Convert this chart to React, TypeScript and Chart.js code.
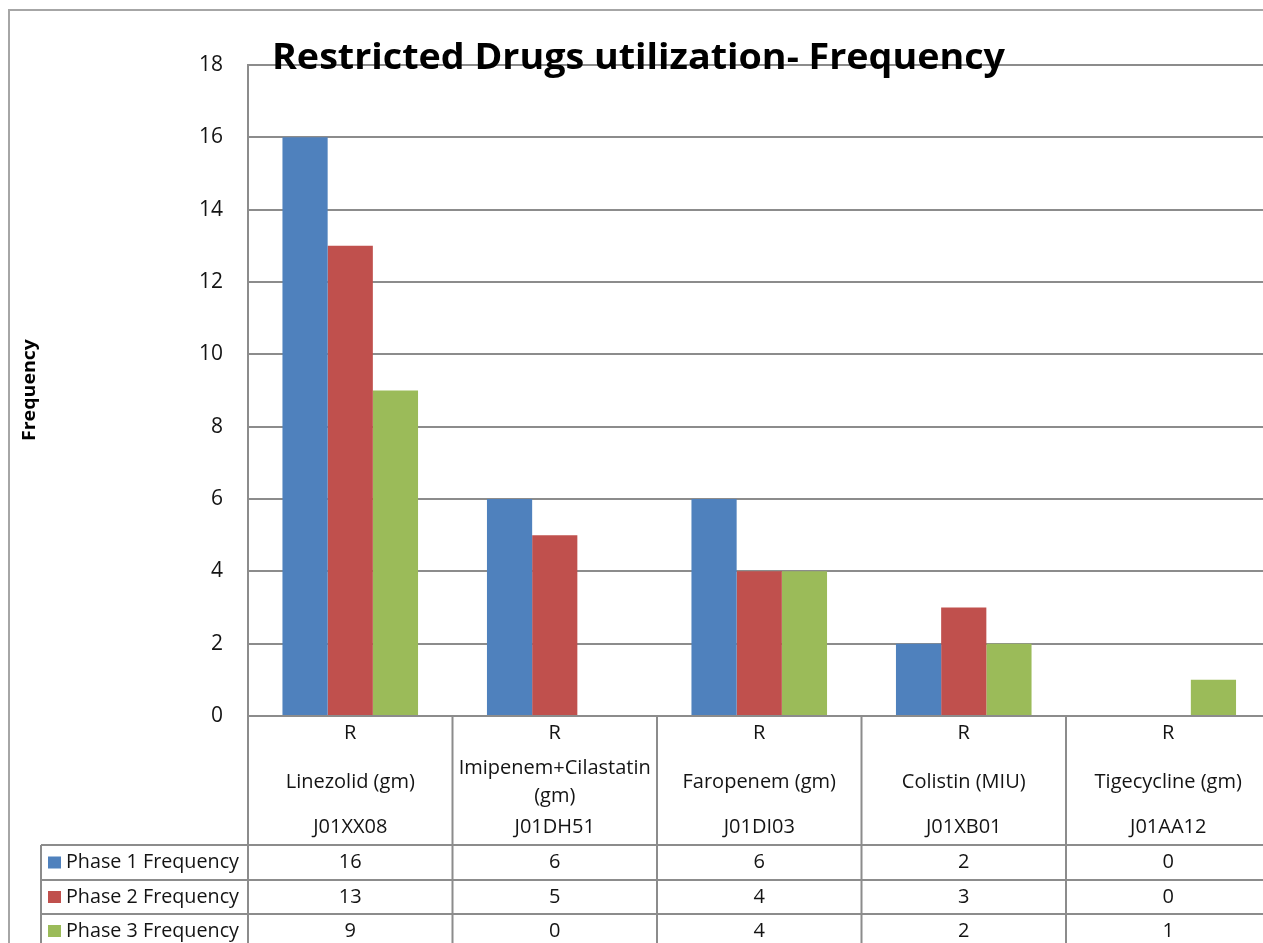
import React, { useEffect, useRef } from "react";
import { Chart, registerables } from "chart.js";

Chart.register(...registerables);

// ---- data ----
const chartTitle = "Restricted Drugs utilization- Frequency";
const yAxisTitle = "Frequency";
const drugClasses = ["R", "R", "R", "R", "R"];
const drugNames = [
  "Linezolid (gm)",
  "Imipenem+Cilastatin (gm)",
  "Faropenem (gm)",
  "Colistin (MIU)",
  "Tigecycline (gm)",
];
const atcCodes = ["J01XX08", "J01DH51", "J01DI03", "J01XB01", "J01AA12"];
const seriesNames = ["Phase 1 Frequency", "Phase 2 Frequency", "Phase 3 Frequency"];
const phase1 = [16, 6, 6, 2, 0];
const phase2 = [13, 5, 4, 3, 0];
const phase3 = [9, 0, 4, 2, 1];
const seriesValues = [phase1, phase2, phase3];
const seriesColors = ["#4f81bd", "#c0504d", "#9bbb59"];
const yMin = 0;
const yMax = 18;
const yStep = 2;

// ---- layout / style ----
const CANVAS_W = 1280;
const CANVAS_H = 943;
const AXIS_X = 248;
const PLOT_TOP = 65;
const PLOT_BOTTOM = 716;
const PLOT_RIGHT = 1270.5;
const LINE = "#8c8c8c";
const TEXT = "#141414";
const FONT = "'Open Sans', 'DejaVu Sans', sans-serif";
const ROW_TOPS = [845, 880, 914, 948];
const LEGEND_LEFT = 41;

function fitText(ctx: CanvasRenderingContext2D, text: string, x: number, y: number, width: number) {
  const w = ctx.measureText(text).width;
  ctx.save();
  ctx.translate(x, y);
  ctx.scale(width / w, 1);
  ctx.fillText(text, 0, 0);
  ctx.restore();
}

function wrap(ctx: CanvasRenderingContext2D, text: string, maxW: number): string[] {
  const words = text.split(" ");
  const lines: string[] = [];
  let cur = "";
  for (const w of words) {
    const t = cur ? cur + " " + w : w;
    if (ctx.measureText(t).width > maxW && cur) {
      lines.push(cur);
      cur = w;
    } else cur = t;
  }
  if (cur) lines.push(cur);
  return lines;
}

const tablePlugin = {
  id: "excelTable",
  afterDraw(chart: any) {
    const ctx: CanvasRenderingContext2D = chart.ctx;
    const xs = chart.scales.x;
    const ys = chart.scales.y;
    const W = chart.width;
    const H = chart.height;
    const n = drugNames.length;
    const c0 = xs.getPixelForValue(0);
    const colW = xs.getPixelForValue(1) - c0;
    const zeroY = ys.getPixelForValue(0);
    ctx.save();

    // outer frame
    ctx.strokeStyle = "#a6a6a6";
    ctx.lineWidth = 2;
    ctx.beginPath();
    ctx.moveTo(9, H);
    ctx.lineTo(9, 10);
    ctx.lineTo(W, 10);
    ctx.stroke();

    // table grid
    ctx.strokeStyle = LINE;
    ctx.lineWidth = 2;
    ctx.beginPath();
    for (let i = 0; i <= n; i++) {
      const x = c0 - colW / 2 + i * colW;
      ctx.moveTo(x, zeroY);
      ctx.lineTo(x, H);
    }
    for (let r = 0; r < seriesNames.length; r++) {
      ctx.moveTo(LEGEND_LEFT, ROW_TOPS[r]);
      ctx.lineTo(W, ROW_TOPS[r]);
    }
    ctx.moveTo(LEGEND_LEFT, ROW_TOPS[0]);
    ctx.lineTo(LEGEND_LEFT, H);
    ctx.stroke();

    // header text
    ctx.fillStyle = TEXT;
    ctx.font = `20px ${FONT}`;
    ctx.textAlign = "center";
    ctx.textBaseline = "middle";
    for (let i = 0; i < n; i++) {
      const cx = xs.getPixelForValue(i);
      ctx.fillText(drugClasses[i], cx, 733);
      const lines = wrap(ctx, drugNames[i], colW - 8);
      const lh = 28;
      const startY = 782 - ((lines.length - 1) * lh) / 2;
      lines.forEach((ln, k) => ctx.fillText(ln, cx, startY + k * lh));
      ctx.fillText(atcCodes[i], cx, 827);
    }

    // series rows
    for (let r = 0; r < seriesNames.length; r++) {
      const cy = (ROW_TOPS[r] + ROW_TOPS[r + 1]) / 2;
      ctx.fillStyle = seriesColors[r];
      ctx.fillRect(48, cy - 6, 13, 12);
      ctx.fillStyle = TEXT;
      ctx.textAlign = "left";
      fitText(ctx, seriesNames[r], 66, cy, 173);
      ctx.textAlign = "center";
      for (let i = 0; i < n; i++) {
        ctx.fillText(String(seriesValues[r][i]), xs.getPixelForValue(i), cy);
      }
    }

    // chart title
    ctx.fillStyle = "#000";
    ctx.font = `bold 36px ${FONT}`;
    ctx.textAlign = "center";
    ctx.textBaseline = "alphabetic";
    fitText(ctx, chartTitle, 638.5, 69, 733);

    // y axis title
    ctx.font = `bold 18px ${FONT}`;
    ctx.textBaseline = "middle";
    ctx.save();
    ctx.translate(30, 390);
    ctx.rotate(-Math.PI / 2);
    fitText(ctx, yAxisTitle, 0, 0, 102);
    ctx.restore();

    ctx.restore();
  },
};

export default function App() {
  const ref = useRef<HTMLCanvasElement>(null);
  useEffect(() => {
    const chart = new Chart(ref.current!, {
      type: "bar",
      data: {
        labels: drugNames,
        datasets: seriesNames.map((name, i) => ({
          label: name,
          data: seriesValues[i],
          backgroundColor: seriesColors[i],
          borderWidth: 0,
          barPercentage: 1,
          categoryPercentage: 0.663,
        })),
      },
      options: {
        animation: false,
        responsive: false,
        devicePixelRatio: 1,
        layout: {
          padding: {
            left: 0,
            top: PLOT_TOP,
            right: CANVAS_W - PLOT_RIGHT,
            bottom: CANVAS_H - PLOT_BOTTOM,
          },
        },
        plugins: {
          legend: { display: false },
          title: { display: false },
          tooltip: { enabled: false },
        },
        scales: {
          x: {
            display: false,
            offset: true,
          },
          y: {
            min: yMin,
            max: yMax,
            ticks: {
              stepSize: yStep,
              padding: 25,
              color: TEXT,
              font: { family: FONT, size: 21 },
            },
            grid: {
              color: LINE,
              lineWidth: 2,
              drawTicks: false,
            },
            border: { display: true, color: LINE, width: 2 },
            afterFit: (scale: any) => {
              scale.width = AXIS_X;
            },
          },
        },
      },
      plugins: [tablePlugin],
    });
    return () => chart.destroy();
  }, []);
  return (
    <div
      style={{
        position: "fixed",
        left: 0,
        top: 0,
        width: 1263,
        height: 943,
        overflow: "hidden",
        background: "#fff",
      }}
    >
      <canvas
        ref={ref}
        width={CANVAS_W}
        height={CANVAS_H}
        style={{ display: "block", width: CANVAS_W, height: CANVAS_H }}
      />
    </div>
  );
}
